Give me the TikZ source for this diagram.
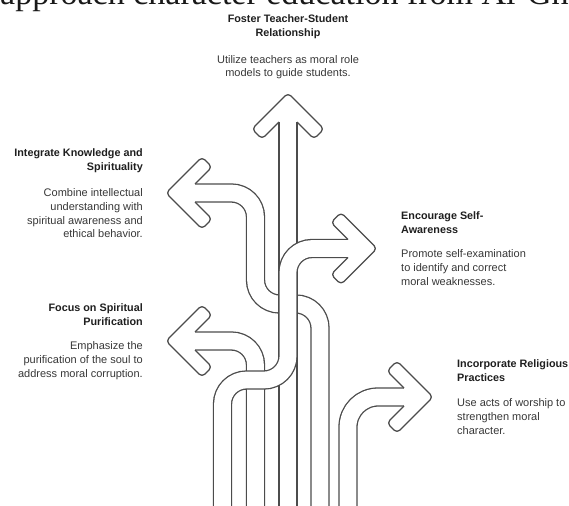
\documentclass[tikz,border=0pt]{standalone}
\usepackage{fontspec}
\setmainfont{Liberation Sans}
\newfontfamily\titlefont{Liberation Serif}
\newcommand\myhead[3]{%
  \begin{scope}[shift={(#1,#2)},rotate=#3]
    \filldraw[headshape] (-29,9) -- (-46,26) -- (-36,36) -- (0,0) -- (-36,-36) -- (-46,-26) -- (-29,-9);
  \end{scope}}
\begin{document}
\begin{tikzpicture}[x=1pt,y=-1pt,
  band/.style={line width=16.7pt, draw=white, line join=round,
    preaction={draw=black!70, line width=19.3pt}},
  headshape/.style={fill=white, draw=black!70, line width=1.3pt, rounded corners=4pt, line join=round},
  hd/.style={font=\bfseries\fontsize{10.8pt}{13.7pt}\selectfont, text=black!88, inner sep=0pt},
  bd/.style={font=\fontsize{11pt}{13.7pt}\selectfont, text=black!78, inner sep=0pt}]
\useasboundingbox (0,0) rectangle (569,505);
\fill[white] (0,0) rectangle (569,505);
% title fragment, cut at the top edge
\begin{scope}
  \clip (0,0) rectangle (569,505);
  \node[anchor=base west, inner sep=0pt, font=\titlefont\fontsize{34pt}{34pt}\selectfont, text=black!90] (title) at (0,4.5) {approach character education from Al-Gh};
\end{scope}
% Integrate Knowledge (under)
\draw[band, rounded corners=24pt] (320,510) -- (320,304) -- (255.5,304) -- (255.5,193) -- (193,193);
\myhead{166}{193}{180}
% Foster Teacher-Student (straight up)
\draw[band] (288,510) -- (288,120);
\myhead{288}{93}{90}
% Focus on Spiritual Purification
\draw[band, rounded corners=24pt] (255.5,510) -- (255.5,341) -- (193,341);
\myhead{166}{341}{180}
% Encourage Self-Awareness
\draw[band, rounded corners=24pt] (222.5,510) -- (222.5,380) -- (288,380) -- (288,248.5) -- (350,248.5);
\myhead{377}{248.5}{0}
% Incorporate Religious Practices
\draw[band, rounded corners=30pt] (348,510) -- (348,397) -- (406,397);
\myhead{433}{397}{0}
% texts
\node[hd, anchor=north, align=center] (fh) at (288,14.5) {Foster Teacher-Student\\Relationship};
\node[bd, anchor=north, align=center] (fb) at (288,55) {Utilize teachers as moral role\\models to guide students.};
\node[hd, anchor=north east, align=right] (ih) at (143,148.5) {Integrate Knowledge and\\Spirituality};
\node[bd, anchor=north east, align=right] (ib) at (143,188.5) {Combine intellectual\\understanding with\\spiritual awareness and\\ethical behavior.};
\node[hd, anchor=north east, align=right] (ph) at (143,303.5) {Focus on Spiritual\\Purification};
\node[bd, anchor=north east, align=right] (pb) at (143,341.5) {Emphasize the\\purification of the soul to\\address moral corruption.};
\node[hd, anchor=north west, align=left] (eh) at (401,211.5) {Encourage Self-\\Awareness};
\node[bd, anchor=north west, align=left] (eb) at (401,249.5) {Promote self-examination\\to identify and correct\\moral weaknesses.};
\node[hd, anchor=north west, align=left] (rh) at (457,359.5) {Incorporate Religious\\Practices};
\node[bd, anchor=north west, align=left] (rb) at (457,398.5) {Use acts of worship to\\strengthen moral\\character.};
\end{tikzpicture}
\end{document}
